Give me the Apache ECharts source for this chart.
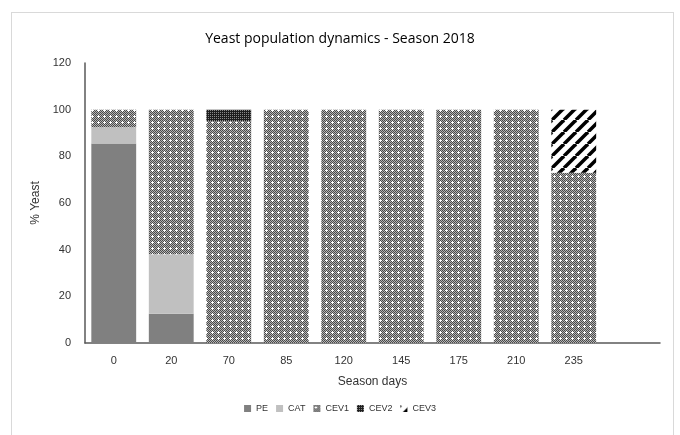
<!DOCTYPE html>
<html>
<head>
<meta charset="utf-8">
<script src="https://cdn.jsdelivr.net/npm/echarts@6/dist/echarts.min.js"></script>
<style>
  html, body { margin: 0; padding: 0; background: #fff; }
  #frame { position: absolute; left: 11px; top: 12px; width: 663px; height: 430px; border: 1px solid #d9d9d9; box-sizing: border-box; }
  #chart { position: absolute; left: 0; top: 0; width: 680px; height: 435px; }
</style>
</head>
<body>
<div id="frame"></div>
<div id="chart"></div>
<script>
// data
const days = ["0", "20", "70", "85", "120", "145", "175", "210", "235", ""];
const pe   = [85.5, 12.5, 0, 0, 0, 0, 0, 0, 0, null];
const cat  = [7, 25.5, 0, 0, 0, 0, 0, 0, 0, null];
const cev1 = [7.5, 62, 95, 100, 100, 100, 100, 100, 73, null];
const cev2 = [0, 0, 5, 0, 0, 0, 0, 0, 0, null];
const cev3 = [0, 0, 0, 0, 0, 0, 0, 0, 27, null];
const yTicks = [0, 20, 40, 60, 80, 100, 120];

// pattern tiles
function tile(size, draw) {
  const c = document.createElement("canvas");
  c.width = size; c.height = size;
  draw(c.getContext("2d"));
  return c;
}
const cev1Pat = tile(6, function (g) {
  for (let y = 0; y < 6; y++) {
    for (let x = 0; x < 6; x++) {
      g.fillStyle = (x + y) % 2 ? "#b4b4b4" : "#4a4a4a";
      g.fillRect(x, y, 1, 1);
    }
  }
  g.fillStyle = "#ffffff";
  g.fillRect(2, 2, 1, 1); g.fillRect(1, 2, 1, 1); g.fillRect(3, 2, 1, 1);
  g.fillRect(2, 1, 1, 1); g.fillRect(2, 3, 1, 1);
});
const cev2Pat = tile(4, function (g) {
  for (let y = 0; y < 4; y++) {
    for (let x = 0; x < 4; x++) {
      g.fillStyle = (x % 2 === 0 && y % 2 === 0) ? "#8a8a8a" : "#1e1e1e";
      g.fillRect(x, y, 1, 1);
    }
  }
});
const cev3Pat = tile(12, function (g) {
  g.fillStyle = "#ffffff";
  g.fillRect(0, 0, 12, 12);
  g.strokeStyle = "#000000";
  g.lineWidth = 3.5;
  for (let k = -12; k <= 24; k += 12) {
    g.beginPath();
    g.moveTo(k, 12);
    g.lineTo(k + 12, 0);
    g.stroke();
  }
});

const chart = echarts.init(document.getElementById("chart"));
function bar(name, data, color) {
  return {
    name: name,
    type: "bar",
    stack: "all",
    data: data,
    barCategoryGap: "22%",
    itemStyle: { color: color },
    emphasis: { disabled: true }
  };
}
const option = {
  animation: false,
  textStyle: { fontFamily: "Liberation Sans, Arial, sans-serif" },
  title: {
    text: "Yeast population dynamics - Season 2018",
    left: "center",
    top: 27,
    textStyle: { fontSize: 14, fontWeight: "normal", color: "#000", fontFamily: "Open Sans" }
  },
  legend: {
    bottom: 17,
    left: "center",
    itemWidth: 7,
    itemHeight: 7,
    itemGap: 8,
    icon: "rect",
    textStyle: { fontSize: 9, color: "#333" },
    data: ["PE", "CAT", "CEV1", "CEV2", "CEV3"]
  },
  grid: { left: 85, right: 20, top: 63, bottom: 92 },
  xAxis: {
    type: "category",
    data: days,
    name: "Season days",
    nameLocation: "middle",
    nameGap: 33,
    nameTextStyle: { fontSize: 12, color: "#333" },
    axisLine: { lineStyle: { color: "#595959", width: 1.5 } },
    axisTick: { show: false },
    axisLabel: { fontSize: 11, color: "#333", margin: 12 }
  },
  yAxis: {
    type: "value",
    min: 0,
    max: 120,
    interval: 20,
    name: "% Yeast",
    nameLocation: "middle",
    nameGap: 34,
    nameTextStyle: { fontSize: 12, color: "#333" },
    axisLine: { show: true, lineStyle: { color: "#595959", width: 1.5 } },
    axisTick: { show: false },
    splitLine: { show: false },
    axisLabel: {
      fontSize: 11, color: "#333", margin: 14,
      formatter: function (v) { return yTicks.indexOf(v) >= 0 ? String(v) : ""; }
    }
  },
  series: [
    bar("PE", pe, "#808080"),
    bar("CAT", cat, "#c0c0c0"),
    bar("CEV1", cev1, { image: cev1Pat, repeat: "repeat" }),
    bar("CEV2", cev2, { image: cev2Pat, repeat: "repeat" }),
    bar("CEV3", cev3, { image: cev3Pat, repeat: "repeat" })
  ]
};
chart.setOption(option);
</script>
</body>
</html>
